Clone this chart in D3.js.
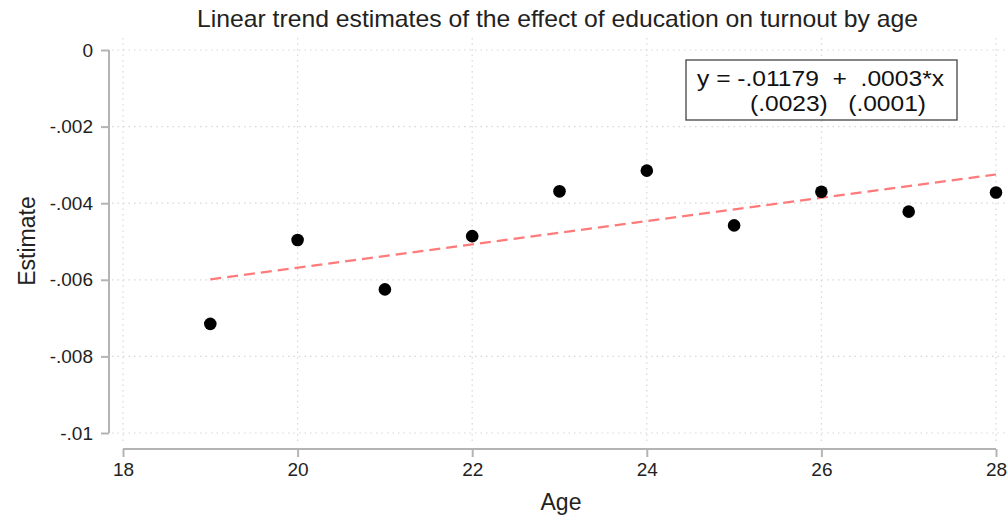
<!DOCTYPE html>
<html>
<head>
<meta charset="utf-8">
<script src="https://cdn.jsdelivr.net/npm/d3@7"></script>
<style>
  body { margin: 0; background: #fff; }
  text { font-family: "Liberation Sans", Arial, sans-serif; }
  .tick text { font-size: 19px; fill: #222; }
</style>
</head>
<body>
<div id="chart"></div>
<script>
// data
var ages = [19, 20, 21, 22, 23, 24, 25, 26, 27, 28];
var estimates = [-0.00715, -0.00496, -0.00625, -0.00486, -0.00369, -0.00315, -0.00458, -0.00370, -0.00422, -0.00372];
var trendAges = [19, 28];
var trendValues = [-0.00599, -0.00325];
var xTicks = [18, 20, 22, 24, 26, 28];
var yTicks = [0, -0.002, -0.004, -0.006, -0.008, -0.01];
var yTickLabels = ["0", "-.002", "-.004", "-.006", "-.008", "-.01"];
var equationLines = ["y = -.01179  +  .0003*x", "(.0023)   (.0001)"];

var width = 1008, height = 523;

var svg = d3.select("#chart").append("svg")
    .attr("width", width)
    .attr("height", height);

var x = d3.scaleLinear().domain([18, 28]).range([123, 996]);
var y = d3.scaleLinear().domain([0, -0.01]).range([50, 433]);

// grid
svg.append("g").selectAll("line.hgrid")
    .data(yTicks)
    .enter().append("line")
    .attr("class", "hgrid")
    .attr("x1", 112).attr("x2", 1006)
    .attr("y1", function(d) { return y(d); })
    .attr("y2", function(d) { return y(d); })
    .attr("stroke", "#d8d8d8")
    .attr("stroke-width", 1.2)
    .attr("stroke-dasharray", "1.5,4");

svg.append("g").selectAll("line.vgrid")
    .data(xTicks)
    .enter().append("line")
    .attr("class", "vgrid")
    .attr("x1", function(d) { return x(d); })
    .attr("x2", function(d) { return x(d); })
    .attr("y1", 38).attr("y2", 445)
    .attr("stroke", "#d8d8d8")
    .attr("stroke-width", 1.2)
    .attr("stroke-dasharray", "1.5,4");

// y axis
var yAxis = d3.axisLeft(y)
    .tickValues(yTicks)
    .tickSize(8)
    .tickPadding(8)
    .tickFormat(function(d, i) { return yTickLabels[i]; });

var gy = svg.append("g")
    .attr("transform", "translate(109,0)")
    .call(yAxis);
gy.select(".domain").attr("stroke", "#b4b4b4").attr("stroke-width", 2)
    .attr("d", "M0," + y(0) + "V" + y(-0.01));
gy.selectAll(".tick line").attr("stroke", "#b4b4b4").attr("stroke-width", 2);

// x axis
var xAxis = d3.axisBottom(x)
    .tickValues(xTicks)
    .tickSize(8)
    .tickPadding(6)
    .tickFormat(d3.format("d"));

var gx = svg.append("g")
    .attr("transform", "translate(0,449)")
    .call(xAxis);
gx.select(".domain").attr("stroke", "#b4b4b4").attr("stroke-width", 2)
    .attr("d", "M" + x(18) + ",0H" + x(28));
gx.selectAll(".tick line").attr("stroke", "#b4b4b4").attr("stroke-width", 2);

// axis titles
svg.append("text")
    .attr("x", 561).attr("y", 510)
    .attr("text-anchor", "middle")
    .attr("font-size", 23)
    .attr("fill", "#222")
    .text("Age");

svg.append("text")
    .attr("transform", "translate(35,241) rotate(-90)")
    .attr("text-anchor", "middle")
    .attr("font-size", 23)
    .attr("fill", "#222")
    .text("Estimate");

// title
svg.append("text")
    .attr("x", 197).attr("y", 27)
    .attr("font-size", 24)
    .attr("fill", "#222")
    .attr("textLength", 721)
    .attr("lengthAdjust", "spacingAndGlyphs")
    .text("Linear trend estimates of the effect of education on turnout by age");

// trend line
var line = d3.line()
    .x(function(d) { return x(d[0]); })
    .y(function(d) { return y(d[1]); });

svg.append("path")
    .datum(d3.zip(trendAges, trendValues))
    .attr("d", line)
    .attr("fill", "none")
    .attr("stroke", "#ff7a7a")
    .attr("stroke-width", 2.2)
    .attr("stroke-dasharray", "11,6");

// points
svg.append("g").selectAll("circle")
    .data(d3.zip(ages, estimates))
    .enter().append("circle")
    .attr("cx", function(d) { return x(d[0]); })
    .attr("cy", function(d) { return y(d[1]); })
    .attr("r", 6.3)
    .attr("fill", "#000");

// equation box
svg.append("rect")
    .attr("x", 686).attr("y", 60)
    .attr("width", 271).attr("height", 60)
    .attr("fill", "#fff")
    .attr("stroke", "#444")
    .attr("stroke-width", 1.3);

svg.append("text")
    .attr("x", 697).attr("y", 86)
    .attr("font-size", 22)
    .attr("fill", "#111")
    .attr("textLength", 247)
    .attr("lengthAdjust", "spacingAndGlyphs")
    .style("white-space", "pre")
    .text(equationLines[0]);

svg.append("text")
    .attr("x", 750).attr("y", 111)
    .attr("font-size", 22)
    .attr("fill", "#111")
    .attr("textLength", 176)
    .attr("lengthAdjust", "spacingAndGlyphs")
    .style("white-space", "pre")
    .text(equationLines[1]);
</script>
</body>
</html>
